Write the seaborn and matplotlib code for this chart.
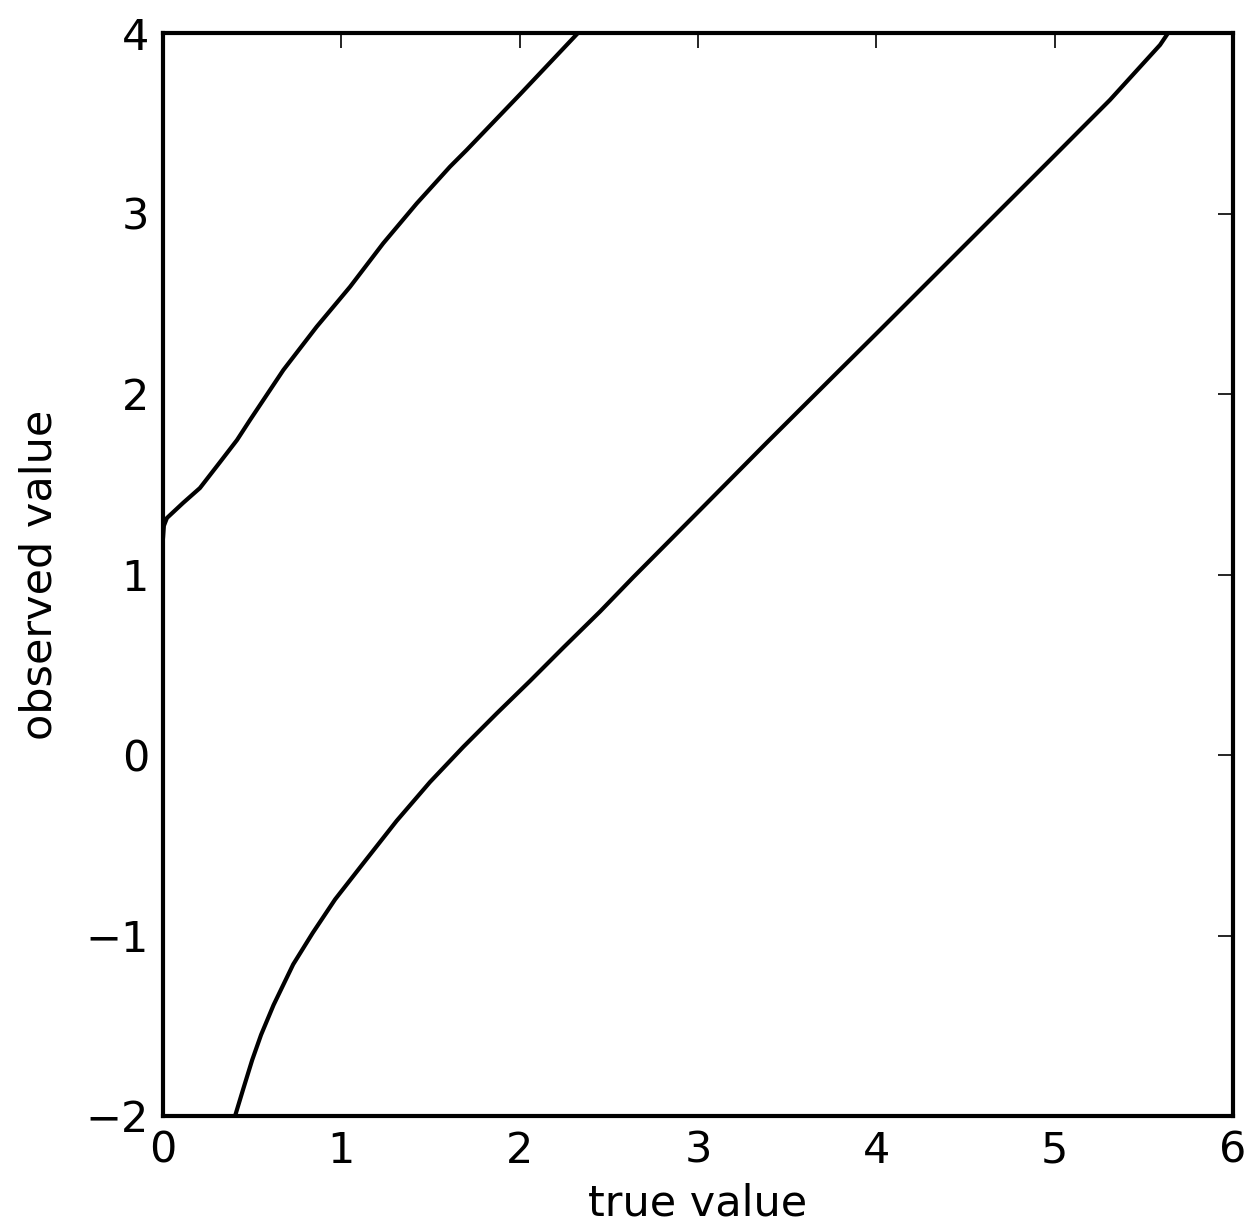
import numpy as np
import pandas as pd
import matplotlib
matplotlib.use("Agg")
import matplotlib.pyplot as plt
import seaborn as sns

# upper belt edge
upper_x = [0.0, 0.005, 0.022, 0.112, 0.207, 0.320, 0.415, 0.488, 0.675, 0.862, 1.049, 1.235, 1.423, 1.609, 1.703, 2.002, 2.327]
upper_y = [1.20, 1.27, 1.313, 1.396, 1.479, 1.623, 1.745, 1.856, 2.133, 2.373, 2.594, 2.835, 3.056, 3.259, 3.352, 3.66, 4.0]

# lower belt edge
lower_x = [0.404, 0.450, 0.500, 0.550, 0.620, 0.730, 0.840, 0.965, 1.123, 1.310, 1.497, 1.684, 1.871,
           2.058, 2.245, 2.451, 2.637, 3.011, 3.385, 3.759, 4.021, 4.581, 4.955, 5.310, 5.591, 5.636]
lower_y = [-2.000, -1.850, -1.690, -1.550, -1.385, -1.160, -0.985, -0.800, -0.600, -0.365, -0.150, 0.045, 0.230,
           0.410, 0.595, 0.795, 0.985, 1.357, 1.730, 2.098, 2.355, 2.908, 3.277, 3.629, 3.934, 4.0]

x_ticks = [0, 1, 2, 3, 4, 5, 6]
y_ticks = [-2, -1, 0, 1, 2, 3, 4]

sns.set_style("white")
plt.rcParams['font.family'] = ['DejaVu Sans']
plt.rcParams['text.color'] = 'black'
plt.rcParams['axes.labelcolor'] = 'black'

fig = plt.figure(figsize=(12.5, 12.27), dpi=100)
ax = fig.add_axes([163/1250, 1 - 1116/1227, (1233-163)/1250, (1116-33)/1227])

df_u = pd.DataFrame({"x": upper_x, "y": upper_y})
df_l = pd.DataFrame({"x": lower_x, "y": lower_y})
sns.lineplot(data=df_u, x="x", y="y", ax=ax, color="black", linewidth=3.0, sort=False, estimator=None)
sns.lineplot(data=df_l, x="x", y="y", ax=ax, color="black", linewidth=3.0, sort=False, estimator=None)

ax.set_xlim(0, 6)
ax.set_ylim(-2, 4)
ax.set_xticks(x_ticks)
ax.set_yticks(y_ticks)
ax.set_xticklabels([str(t) for t in x_ticks])
ax.set_yticklabels([str(t).replace('-', '\u2212') for t in y_ticks])
ax.tick_params(direction='in', length=11, width=1.2, top=True, right=True,
               labelsize=31, pad=10, colors='black')
for s in ax.spines.values():
    s.set_linewidth(3.0)
    s.set_color('black')
ax.set_xlabel("true value", fontsize=31, labelpad=8, color='black')
ax.set_ylabel("observed value", fontsize=31, labelpad=18, color='black')

fig.savefig("out.png", dpi=100)
